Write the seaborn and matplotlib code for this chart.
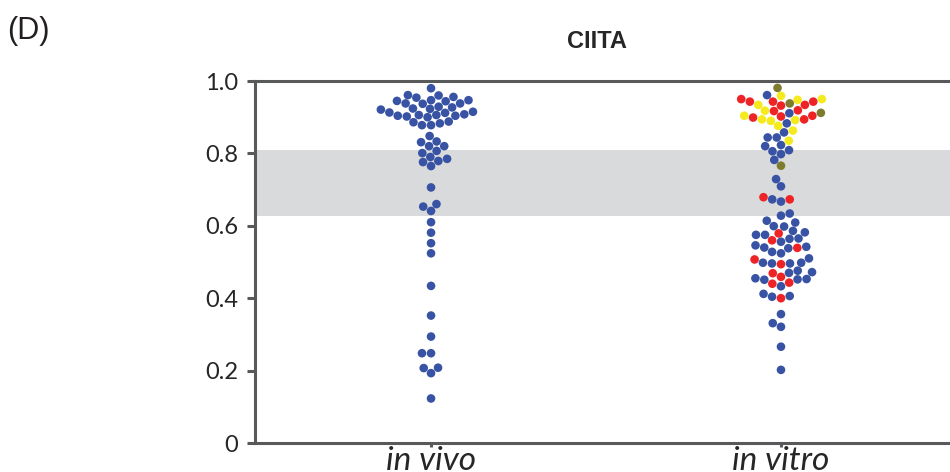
import matplotlib
matplotlib.use("Agg")
import matplotlib.pyplot as plt
import pandas as pd
import seaborn as sns

# values (fraction, 0-1)
categories = ["in vivo", "in vitro"]

in_vivo = [
    0.980, 0.954, 0.956, 0.961, 0.960, 0.938, 0.945, 0.937, 0.947, 0.947,
    0.938, 0.944, 0.927, 0.923, 0.921, 0.929, 0.924, 0.915, 0.912, 0.906,
    0.904, 0.902, 0.900, 0.906, 0.904, 0.908, 0.913, 0.886, 0.878, 0.878,
    0.883, 0.888,
    0.848, 0.831, 0.833, 0.820, 0.820, 0.807, 0.801, 0.790, 0.776, 0.779,
    0.785, 0.765,
    0.706, 0.653, 0.660, 0.641, 0.610, 0.581, 0.552, 0.524, 0.434, 0.352,
    0.294, 0.248, 0.248, 0.207, 0.208, 0.193, 0.123,
]

vitro_blue = [
    0.961, 0.911, 0.883, 0.858, 0.844, 0.844, 0.820, 0.823, 0.806, 0.809,
    0.798, 0.782, 0.729, 0.709, 0.673, 0.667, 0.628, 0.634, 0.609, 0.614,
    0.598, 0.599, 0.586, 0.582, 0.575, 0.575, 0.565, 0.564, 0.556, 0.546,
    0.540, 0.538, 0.542, 0.528, 0.524, 0.510, 0.498, 0.496, 0.496, 0.498,
    0.476, 0.470, 0.472, 0.453, 0.452, 0.451, 0.455, 0.433, 0.412, 0.404,
    0.406, 0.356, 0.331, 0.321, 0.266, 0.202,
]
vitro_red = [
    0.950, 0.943, 0.934, 0.932, 0.943, 0.943, 0.917, 0.919, 0.904, 0.902,
    0.894, 0.899, 0.673, 0.679, 0.579, 0.560, 0.539, 0.494, 0.507, 0.469,
    0.459, 0.440, 0.443, 0.400,
]
vitro_yellow = [
    0.959, 0.934, 0.948, 0.950, 0.918, 0.904, 0.890, 0.892, 0.894, 0.876,
    0.863, 0.835,
]
vitro_olive = [0.981, 0.938, 0.912, 0.766]

group_colors = {
    "blue": "#3953a4",
    "red": "#ed2326",
    "yellow": "#f5ea1e",
    "olive": "#7e7b2e",
}

rows = [("in vivo", v, "blue") for v in in_vivo]
for grp, vals in [("blue", vitro_blue), ("red", vitro_red),
                  ("yellow", vitro_yellow), ("olive", vitro_olive)]:
    rows += [("in vitro", v, grp) for v in vals]
df = pd.DataFrame(rows, columns=["sample", "value", "group"])

sns.set_style("white")
plt.rcParams["font.family"] = ["Lato", "DejaVu Sans"]

spine_color = "#58595b"

fig = plt.figure(figsize=(9.5, 4.72), dpi=100)
ax = fig.add_axes([255 / 950, 29 / 472, 695 / 950, 362 / 472])
ax.set_xlim(-0.503, 1.483)
ax.set_ylim(0, 1.0)

# shaded reference band
ax.axhspan(0.627, 0.809, color="#d9dadb", zorder=0, lw=0)

sns.swarmplot(
    data=df, x="sample", y="value", hue="group", order=categories,
    palette=group_colors, size=6.2, linewidth=0, legend=False, ax=ax,
    zorder=3,
)
ax.set_xlim(-0.503, 1.483)
ax.set_ylim(0, 1.0)

for side in ["left", "top", "bottom"]:
    ax.spines[side].set_color(spine_color)
    ax.spines[side].set_linewidth(2.2)
    ax.spines[side].set_visible(True)
ax.spines["right"].set_visible(False)

ax.set_yticks([0, 0.2, 0.4, 0.6, 0.8, 1.0])
ax.set_yticklabels(["0", "0.2", "0.4", "0.6", "0.8", "1.0"])
ax.tick_params(axis="y", direction="out", length=6, width=2.2,
               color=spine_color, labelsize=17, pad=6, left=True)
ax.tick_params(axis="x", direction="out", length=3, width=2.2,
               color=spine_color, labelsize=24, pad=-1, bottom=True)
for lab in ax.get_xticklabels():
    lab.set_fontstyle("italic")
ax.set_xlabel("")
ax.set_ylabel("")

fig.text(597 / 950, 1 - 42 / 472, "CIITA", ha="center", va="center",
         fontsize=17, fontweight="bold", family=["Liberation Sans"])
fig.text(7 / 950, 1 - 31 / 472, "(D)", ha="left", va="center",
         fontsize=22, family=["Liberation Sans"], color="#231f20")

fig.savefig("out.png", dpi=100)
